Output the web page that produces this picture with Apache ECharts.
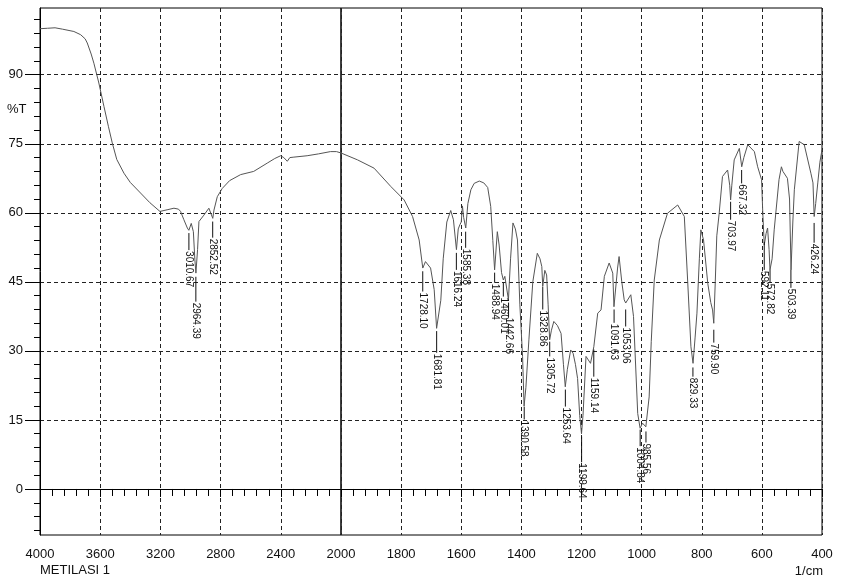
<!DOCTYPE html>
<html>
<head>
<meta charset="utf-8">
<script src="https://cdn.jsdelivr.net/npm/echarts@6/dist/echarts.min.js"></script>
<style>html,body{margin:0;padding:0;background:#fff}#c{width:846px;height:584px}</style>
</head>
<body>
<div id="c"></div>
<script>
// Spectrum (wavenumber 1/cm, %T)
const wavenumbers = [4000,3950,3900,3850,3775,3730,3700,3686,3660,3642,3609,3575,3545,3520,3490,3442,3400,3332,3270,3203,3150,3110,3080,3066,3044,3021,3011,2995,2981,2971,2964,2953,2944,2911,2878,2866,2852,2844,2822,2789,2740,2667,2580,2490,2440,2401,2380,2357,2340,2313,2225,2150,2070,2030,2000,
1945,1890,1834,1790,1762,1740,1728,1719,1702,1690,1682,1668,1660,1648,1635,1626,1616,1610,1604,1600,1596,1592,1585,1578,1568,1557,1540,1525,1512,1502,1495,1489,1480,1474,1466,1460,1455,1450,1443,1436,1428,1420,1413,1405,1396,1391,1385,1375,1362,1347,1338,1332,1329,1322,1316,1311,1306,1300,1292,1280,1268,1260,1254,1247,1236,1228,1220,1213,1206,1200,1195,1185,
1170,1159,1146,1135,1124,1108,1096,1092,1080,1075,1066,1058,1053,1036,1027,1013,1005,997,986,975,968,958,941,914,880,858,847,836,829,822,816,808,803,794,780,770,764,760,755,750,742,731,714,707,704,700,692,675,667,660,647,625,614,601,597,592,586,581,576,573,566,559,543,535,530,526,515,508,503,497,492,476,459,437,430,426,421,414,407,400];
const transmittance = [100.0,100.1,100.2,99.9,99.4,98.7,97.8,96.9,94.5,92.5,88.2,83.1,78.7,75.2,71.6,68.6,66.6,64.3,62.2,60.3,60.7,61.0,60.8,60.3,58.5,56.7,56.2,57.7,55.9,49.8,46.9,52.0,58.1,59.5,61.0,60.6,58.8,60.6,63.5,65.3,67.0,68.3,69.0,70.8,71.8,72.4,72.0,71.2,72.0,72.1,72.4,72.8,73.3,73.3,73.0,
71.5,69.7,65.7,62.8,59.2,54.1,48.0,49.4,48.0,43.3,34.9,41.0,50.0,58.0,60.5,58.5,52.0,56.5,57.5,58.0,61.5,59.0,56.7,62.0,65.0,66.4,66.9,66.5,65.5,61.4,54.0,47.6,55.9,53.0,47.0,45.4,46.2,45.8,41.1,50.0,57.8,56.5,54.1,40.0,28.8,18.0,22.0,32.4,45.0,51.2,50.0,48.3,44.0,47.5,46.5,40.0,32.4,34.5,36.4,35.5,33.8,27.0,22.2,26.0,30.2,29.5,27.0,24.0,16.0,12.0,16.0,28.8,
27.3,30.9,38.2,38.9,46.2,49.1,46.9,39.6,48.0,50.5,45.0,41.1,40.4,42.2,37.5,16.4,13.2,14.3,13.5,20.0,32.0,45.4,54.1,59.9,61.7,59.2,45.4,30.9,27.3,33.0,38.2,50.0,56.3,54.1,44.7,40.5,38.9,36.0,45.0,55.0,59.9,67.9,69.3,66.0,62.8,66.0,71.5,74.0,70.0,72.0,74.8,73.3,70.0,67.2,60.0,53.0,55.5,56.7,52.0,47.6,50.0,56.3,67.2,70.0,69.0,68.6,67.5,63.0,47.6,58.0,65.0,75.5,74.8,68.6,66.5,59.2,62.0,66.5,71.0,73.7];

// Peak annotations: wavenumber, label, leader-line start (%T), text start (%T)
const peakWave = [3010.67,2964.39,2852.52,1728.10,1681.81,1616.24,1585.38,1488.94,1460.01,1442.66,1390.58,1328.86,1305.72,1253.64,1199.64,1159.14,1091.63,1053.06,1004.84,985.56,829.33,759.90,703.97,667.32,592.11,572.82,503.39,426.24];
const peakText = ["3010.67","2964.39","2852.52","1728.10","1681.81","1616.24","1585.38","1488.94","1460.01","1442.66","1390.58","1328.86","1305.72","1253.64","1199.64","1159.14","1091.63","1053.06","1004.84","985.56","829.33","759.90","703.97","667.32","592.11","572.82","503.39","426.24"];
const peakTip = [55.6,46.1,58.1,47.3,34.3,51.3,55.9,47.0,44.8,40.5,17.9,43.9,32.0,21.6,11.4,30.3,39.0,39.0,12.9,12.5,26.4,34.6,62.4,69.3,53.7,47.6,47.6,57.8];
const peakTextTop = [51.9,40.7,54.6,42.9,29.6,47.6,52.4,44.8,41.8,37.4,15.1,39.0,28.8,17.9,5.8,24.4,36.1,35.3,9.3,10.1,24.4,31.8,58.5,66.4,47.6,44.8,43.7,53.5];

const yMajorTicks = [0,15,30,45,60,75,90];
const yLabelText = ["0","15","30","45","60","75","90"];
const yMinorTicks = [];
for (let v = -9; v <= 102; v += 3) if (v % 15 !== 0) yMinorTicks.push(v);

const Y_MIN = -10, Y_MAX = 104.5;
const FONT = '"Liberation Sans Narrow","Liberation Sans",Arial,sans-serif';

const leftData = [], rightData = [];
wavenumbers.forEach((w, i) => {
  if (w >= 2000) leftData.push([w, transmittance[i]]);
  if (w <= 2000) rightData.push([w, transmittance[i]]);
});
const leftPeaks = [], rightPeaks = [];
peakWave.forEach((w, i) => {
  const item = { value: [w, peakTip[i], peakTextTop[i]], text: peakText[i] };
  (w > 2000 ? leftPeaks : rightPeaks).push(item);
});

function peakRenderer(list) {
  return function (params, api) {
    const a = api.coord([api.value(0), api.value(1)]);
    const b = api.coord([api.value(0), api.value(2)]);
    return {
      type: 'group',
      children: [
        { type: 'line', shape: { x1: a[0], y1: a[1], x2: b[0], y2: b[1] }, style: { stroke: '#111', lineWidth: 1 } },
        { type: 'text', x: b[0], y: b[1] + 1, rotation: -Math.PI / 2,
          style: { text: list[params.dataIndex].text, fill: '#111', font: '10px "Liberation Sans",Arial,sans-serif', align: 'left', verticalAlign: 'middle' } }
      ]
    };
  };
}

const dashed = { show: true, lineStyle: { color: '#222', width: 1, type: [4, 3] } };
const xLabel = { color: '#111', fontSize: 13, fontFamily: FONT, margin: 13, formatter: v => String(v) };

const chart = echarts.init(document.getElementById('c'), null, { renderer: 'canvas' });
chart.setOption({
  animation: false,
  backgroundColor: '#fff',
  grid: [
    { left: 40, top: 8, width: 301, height: 527, show: true, borderColor: '#000', borderWidth: 1, backgroundColor: 'transparent' },
    { left: 341, top: 8, width: 481, height: 527, show: true, borderColor: '#000', borderWidth: 1, backgroundColor: 'transparent' }
  ],
  xAxis: [
    { gridIndex: 0, type: 'value', min: 2000, max: 4000, interval: 400, inverse: true,
      axisLine: { lineStyle: { color: '#000' } },
      axisTick: { show: true, length: 8, lineStyle: { color: '#000' } },
      minorTick: { show: true, splitNumber: 5, length: 7, lineStyle: { color: '#000' } },
      axisLabel: Object.assign({ showMinLabel: false }, xLabel),
      splitLine: dashed },
    { gridIndex: 1, type: 'value', min: 400, max: 2000, interval: 200, inverse: true,
      axisLine: { lineStyle: { color: '#000' } },
      axisTick: { show: true, length: 8, lineStyle: { color: '#000' } },
      minorTick: { show: true, splitNumber: 5, length: 7, lineStyle: { color: '#000' } },
      axisLabel: xLabel,
      splitLine: dashed }
  ],
  yAxis: [
    { gridIndex: 0, type: 'value', min: Y_MIN, max: Y_MAX, position: 'left',
      axisLine: { show: true, lineStyle: { color: '#000' } },
      axisTick: { show: true, length: 15, customValues: yMajorTicks, lineStyle: { color: '#000' } },
      axisLabel: { show: true, customValues: yMajorTicks, color: '#111', fontSize: 13, fontFamily: FONT, margin: 17,
        formatter: v => yLabelText[yMajorTicks.indexOf(v)] },
      splitLine: dashed },
    { gridIndex: 0, type: 'value', min: Y_MIN, max: Y_MAX, position: 'left',
      axisLine: { show: false },
      axisTick: { show: true, length: 6, customValues: yMinorTicks, lineStyle: { color: '#000' } },
      axisLabel: { show: false },
      splitLine: { show: false } },
    { gridIndex: 1, type: 'value', min: Y_MIN, max: Y_MAX, position: 'left',
      axisLine: { show: false },
      axisTick: { show: false, customValues: yMajorTicks },
      axisLabel: { show: false, customValues: yMajorTicks },
      splitLine: dashed }
  ],
  graphic: [
    { type: 'text', left: 7, top: 103, style: { text: '%T', fill: '#111', font: '13px ' + FONT } },
    { type: 'text', left: 40, top: 564, style: { text: 'METILASI 1', fill: '#111', font: '13px ' + FONT } },
    { type: 'text', right: 23, top: 565, style: { text: '1/cm', fill: '#111', font: '13px ' + FONT } }
  ],
  series: [
    { type: 'line', xAxisIndex: 0, yAxisIndex: 0, data: leftData, showSymbol: false, symbol: 'none',
      lineStyle: { color: '#555', width: 1 }, silent: true, z: 3 },
    { type: 'line', xAxisIndex: 1, yAxisIndex: 2, data: rightData, showSymbol: false, symbol: 'none',
      lineStyle: { color: '#555', width: 1 }, silent: true, z: 3 },
    { type: 'custom', xAxisIndex: 0, yAxisIndex: 0, data: leftPeaks, renderItem: peakRenderer(leftPeaks), silent: true, z: 4 },
    { type: 'custom', xAxisIndex: 1, yAxisIndex: 2, data: rightPeaks, renderItem: peakRenderer(rightPeaks), silent: true, z: 4 }
  ]
});
</script>
</body>
</html>
